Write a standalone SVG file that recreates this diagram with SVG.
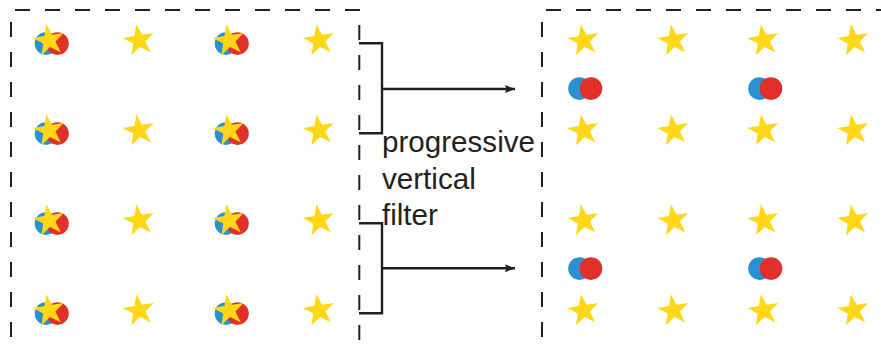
<svg xmlns="http://www.w3.org/2000/svg" xmlns:xlink="http://www.w3.org/1999/xlink" width="881" height="346" viewBox="0 0 881 346">
<style>
.dash{stroke:#231f20;stroke-width:2;stroke-dasharray:15 15;fill:none}
.ln{stroke:#231f20;stroke-width:2.4;fill:none}
.blue{fill:#2a90d2}
.red{fill:#e12f2a}
.star{fill:#ffd717}
.lbl{font-family:"Liberation Sans",Arial,sans-serif;font-size:29.6px;fill:#231f20}
</style>
<defs>
<path id="star" class="star" d="M -2.58 -16.3 L 2.95 -5.79 L 14.7 -7.49 L 6.42 1.02 L 11.67 11.67 L 1.02 6.42 L -7.49 14.7 L -5.79 2.95 L -16.3 -2.58 L -4.6 -4.6 Z"/>
<g id="pair"><circle class="blue" cx="-4" cy="0" r="11.3"/><circle class="red" cx="7.5" cy="0" r="11.3"/></g>
<marker id="ah" markerWidth="10" markerHeight="8" refX="10" refY="4" orient="auto" markerUnits="userSpaceOnUse"><path d="M0 0 L10 4 L0 8 L1.5 4 Z" fill="#231f20"/></marker>
</defs>
<rect width="881" height="346" fill="#fff"/>
<g id="left-panel">
<path class="dash" d="M15 10 H360"/>
<path class="dash" d="M11 22 V346"/>
<path class="dash" d="M359.3 25 V346"/>
<use xlink:href="#pair" x="50" y="43.6"/><use xlink:href="#star" x="49" y="40.6"/>
<use xlink:href="#star" x="139" y="40.6"/>
<use xlink:href="#pair" x="230" y="43.6"/><use xlink:href="#star" x="229" y="40.6"/>
<use xlink:href="#star" x="319" y="40.6"/>
<use xlink:href="#pair" x="50" y="133.6"/><use xlink:href="#star" x="49" y="130.6"/>
<use xlink:href="#star" x="139" y="130.6"/>
<use xlink:href="#pair" x="230" y="133.6"/><use xlink:href="#star" x="229" y="130.6"/>
<use xlink:href="#star" x="319" y="130.6"/>
<use xlink:href="#pair" x="50" y="223.6"/><use xlink:href="#star" x="49" y="220.6"/>
<use xlink:href="#star" x="139" y="220.6"/>
<use xlink:href="#pair" x="230" y="223.6"/><use xlink:href="#star" x="229" y="220.6"/>
<use xlink:href="#star" x="319" y="220.6"/>
<use xlink:href="#pair" x="50" y="313.6"/><use xlink:href="#star" x="49" y="310.6"/>
<use xlink:href="#star" x="139" y="310.6"/>
<use xlink:href="#pair" x="230" y="313.6"/><use xlink:href="#star" x="229" y="310.6"/>
<use xlink:href="#star" x="319" y="310.6"/>
</g>
<g id="right-panel">
<path class="dash" d="M546 10 H881"/>
<path class="dash" d="M542 22 V346"/>
<use xlink:href="#star" x="583.5" y="40.6"/><use xlink:href="#star" x="673.5" y="40.6"/><use xlink:href="#star" x="763.5" y="40.6"/><use xlink:href="#star" x="853.5" y="40.6"/>
<use xlink:href="#pair" x="583.5" y="88.6"/><use xlink:href="#pair" x="763.5" y="88.6"/>
<use xlink:href="#star" x="583.5" y="130.6"/><use xlink:href="#star" x="673.5" y="130.6"/><use xlink:href="#star" x="763.5" y="130.6"/><use xlink:href="#star" x="853.5" y="130.6"/>
<use xlink:href="#star" x="583.5" y="220.6"/><use xlink:href="#star" x="673.5" y="220.6"/><use xlink:href="#star" x="763.5" y="220.6"/><use xlink:href="#star" x="853.5" y="220.6"/>
<use xlink:href="#pair" x="583.5" y="268.6"/><use xlink:href="#pair" x="763.5" y="268.6"/>
<use xlink:href="#star" x="583.5" y="310.6"/><use xlink:href="#star" x="673.5" y="310.6"/><use xlink:href="#star" x="763.5" y="310.6"/><use xlink:href="#star" x="853.5" y="310.6"/>
</g>
<g id="connectors">
<path class="ln" d="M359 43.3 H382 V133.3 H359"/>
<path class="ln" d="M382 89 H515" marker-end="url(#ah)"/>
<path class="ln" d="M359 223.3 H382 V313.3 H359"/>
<path class="ln" d="M382 268.3 H515" marker-end="url(#ah)"/>
</g>
<g id="label">
<text class="lbl" x="382" y="152">progressive</text>
<text class="lbl" x="382" y="188.5">vertical</text>
<text class="lbl" x="382" y="225">filter</text>
</g>
</svg>
